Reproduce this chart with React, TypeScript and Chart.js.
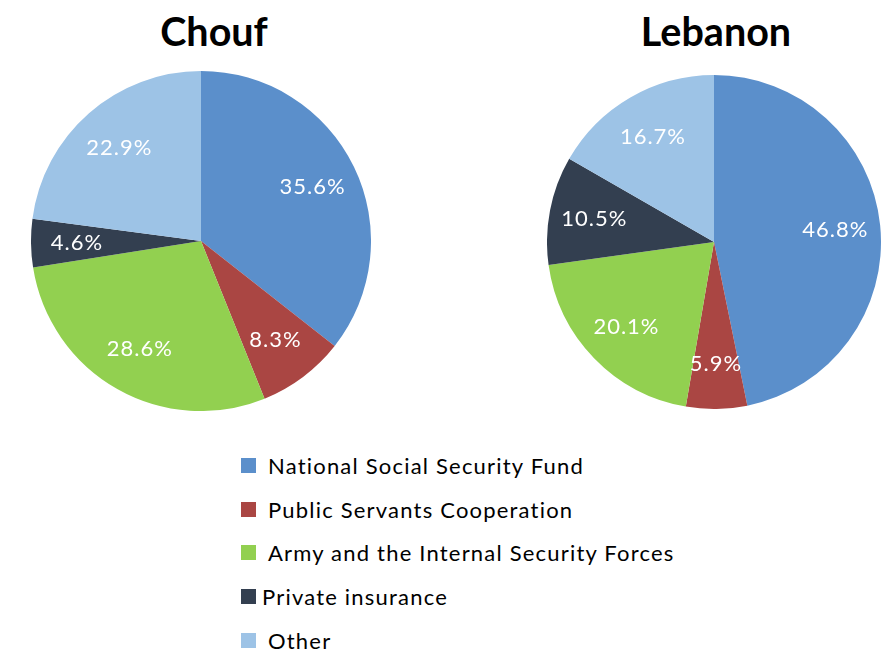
import React, { useEffect, useRef } from "react";
import { Chart, registerables } from "chart.js";

Chart.register(...registerables);

const categories = [
  "National Social Security Fund",
  "Public Servants Cooperation",
  "Army and the Internal Security Forces",
  "Private insurance",
  "Other",
];
const choufValues = [35.6, 8.3, 28.6, 4.6, 22.9];
const lebanonValues = [46.8, 5.9, 20.1, 10.5, 16.7];
const colors = ["#5B8FCB", "#AA4643", "#92D050", "#333F50", "#9DC3E6"];
const titles = ["Chouf", "Lebanon"];

const FONT = "Lato, 'Open Sans', sans-serif";

const labelPlugin = {
  id: "sliceLabels",
  afterDatasetsDraw(chart: any) {
    const ctx = chart.ctx;
    const meta = chart.getDatasetMeta(0);
    const data = chart.data.datasets[0].data as number[];
    ctx.save();
    ctx.fillStyle = "#ffffff";
    ctx.font = `22px ${FONT}`;
    try {
      (ctx as any).letterSpacing = "1px";
    } catch (e) {}
    ctx.textAlign = "center";
    ctx.textBaseline = "middle";
    meta.data.forEach((arc: any, i: number) => {
      const p = arc.getProps(["startAngle", "endAngle", "outerRadius", "x", "y"], true);
      const mid = (p.startAngle + p.endAngle) / 2;
      const r = p.outerRadius * 0.73;
      const x = p.x + Math.cos(mid) * r;
      const y = p.y + Math.sin(mid) * r;
      ctx.fillText(data[i].toFixed(1) + "%", x, y);
    });
    ctx.restore();
  },
};

function PieCanvas({ values, left, top, size }: { values: number[]; left: number; top: number; size: number }) {
  const ref = useRef<HTMLCanvasElement | null>(null);
  useEffect(() => {
    if (!ref.current) return;
    const chart = new Chart(ref.current, {
      type: "pie",
      data: {
        labels: categories,
        datasets: [
          {
            data: values,
            backgroundColor: colors,
            borderWidth: 0,
          },
        ],
      },
      options: {
        responsive: false,
        animation: false,
        layout: { padding: 0 },
        plugins: {
          legend: { display: false },
          tooltip: { enabled: false },
          title: { display: false },
        },
      },
      plugins: [labelPlugin],
    });
    return () => chart.destroy();
  }, [values]);
  return (
    <canvas
      ref={ref}
      width={size}
      height={size}
      style={{ position: "absolute", left, top, width: size, height: size }}
    />
  );
}

const titleStyle: React.CSSProperties = {
  position: "absolute",
  width: 240,
  top: 6,
  textAlign: "center",
  fontWeight: 700,
  fontSize: 39.5,
  lineHeight: "50px",
  color: "#000",
};

export default function App() {
  return (
    <div
      style={{
        position: "fixed",
        left: 0,
        top: 0,
        width: 881,
        height: 652,
        background: "#ffffff",
        fontFamily: FONT,
        overflow: "hidden",
      }}
    >
      <div style={{ ...titleStyle, left: 214 - 120 }}>{titles[0]}</div>
      <div style={{ ...titleStyle, left: 716 - 120 }}>{titles[1]}</div>
      <PieCanvas values={choufValues} left={31} top={71} size={340} />
      <PieCanvas values={lebanonValues} left={547} top={75} size={334} />
      <div style={{ position: "absolute", left: 241, top: 444 }}>
        {categories.map((c, i) => (
          <div
            key={c}
            style={{
              display: "flex",
              alignItems: "center",
              height: 43.6,
              fontSize: 22,
              letterSpacing: 1.2,
              color: "#000",
              whiteSpace: "nowrap",
            }}
          >
            <span
              style={{
                display: "inline-block",
                width: 15,
                height: 15,
                background: colors[i],
                marginRight: i === 3 ? 6 : 12,
              }}
            />
            <span>{c}</span>
          </div>
        ))}
      </div>
    </div>
  );
}
